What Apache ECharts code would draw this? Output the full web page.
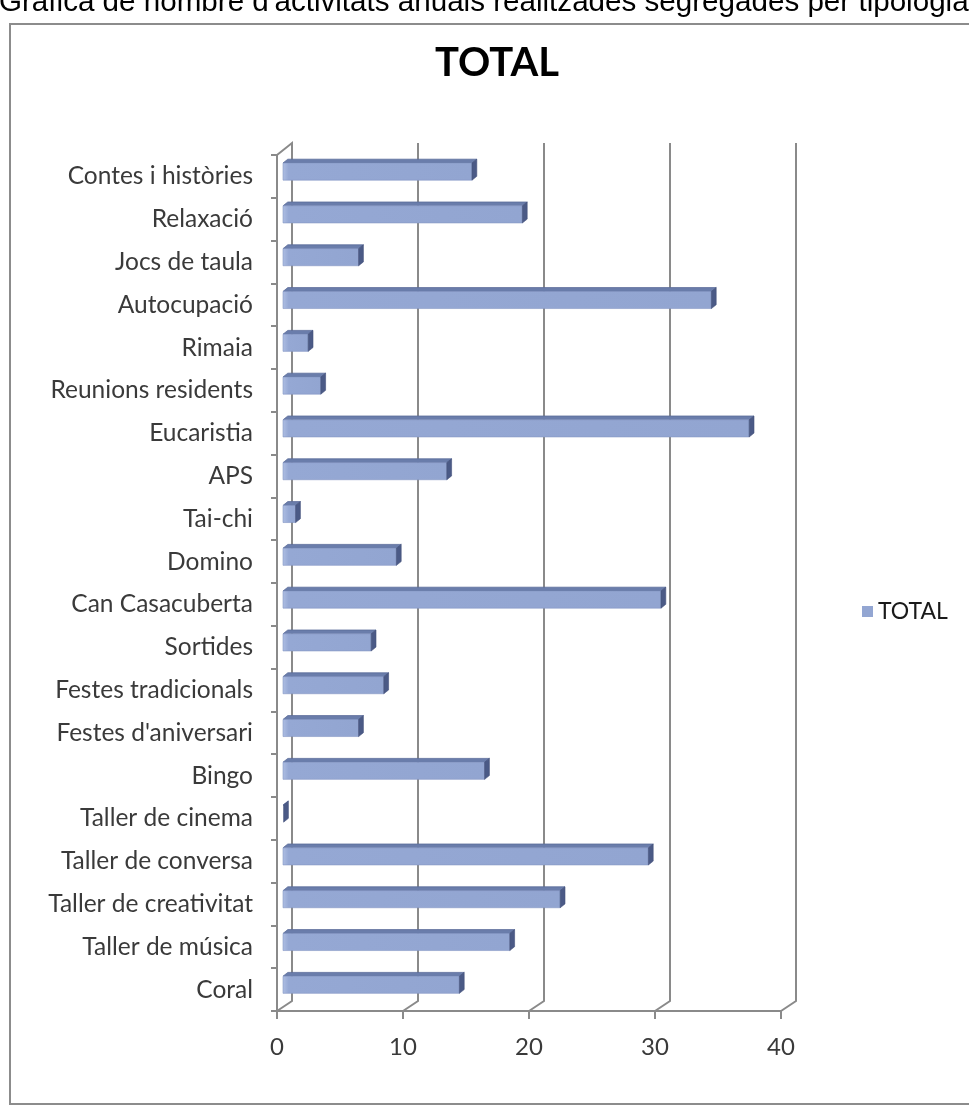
<!DOCTYPE html>
<html>
<head>
<meta charset="utf-8">
<script src="https://cdn.jsdelivr.net/npm/echarts@6/dist/echarts.min.js"></script>
<style>
  html, body { margin: 0; padding: 0; background: #ffffff; overflow: hidden; }
  #chart { width: 969px; height: 1106px; }
</style>
</head>
<body>
<div id="chart"></div>
<script>
// Activity types, top to bottom
const categories = [
  'Contes i històries', 'Relaxació', 'Jocs de taula', 'Autocupació', 'Rimaia',
  'Reunions residents', 'Eucaristia', 'APS', 'Tai-chi', 'Domino',
  'Can Casacuberta', 'Sortides', 'Festes tradicionals', "Festes d'aniversari", 'Bingo',
  'Taller de cinema', 'Taller de conversa', 'Taller de creativitat', 'Taller de música', 'Coral'
];
// Number of activities per year for each type
const totals = [15, 19, 6, 34, 2, 3, 37, 13, 1, 9, 30, 7, 8, 6, 16, 0, 29, 22, 18, 14];
// Value-axis ticks (also used for the back-wall grid lines)
const gridTicks = [0, 10, 20, 30, 40];
const seriesName = 'TOTAL';
const chartTitle = 'TOTAL';
const pageHeading = "Gràfica de nombre d'activitats anuals realitzades segregades per tipologia";

// Depth offset of the 3D box (back wall relative to the front plane), in px
const DEPTH = [15, -12];
const BAR_FRONT = 0.4;   // fraction of depth where the bar's front face sits
const BAR_BACK = 0.72;   // fraction of depth where the bar's back face sits
const LABEL_FONT = 'Lato, "Open Sans", sans-serif';
const LINE_GREY = '#8a8a8a';

const chart = echarts.init(document.getElementById('chart'), null, { renderer: 'canvas' });

function renderWall(params, api) {
  const cs = params.coordSys;
  const v = api.value(0);
  const x = api.coord([v, 0])[0];
  const top = cs.y, bottom = cs.y + cs.height;
  const pts = [];
  if (v === gridTicks[0]) pts.push([x, top]);
  pts.push([x + DEPTH[0], top + DEPTH[1]]);
  pts.push([x + DEPTH[0], bottom + DEPTH[1] + 2]);
  pts.push([x, bottom]);
  return {
    type: 'polyline',
    shape: { points: pts },
    style: { stroke: LINE_GREY, lineWidth: 2, fill: null }
  };
}

function renderBar(params, api) {
  const v = api.value(0);
  const idx = api.value(1);
  const start = api.coord([0, idx]);
  const end = api.coord([v, idx]);
  const band = api.size([0, 1])[1];
  const h = band * 0.4;
  const fx = BAR_FRONT * DEPTH[0], fy = BAR_FRONT * DEPTH[1];
  const ddx = (BAR_BACK - BAR_FRONT) * DEPTH[0], ddy = (BAR_BACK - BAR_FRONT) * DEPTH[1];
  const x0 = start[0] + fx, x1 = Math.max(end[0] + fx, x0 + 0.6);
  const yc = start[1] + fy;
  const yt = yc - h / 2, yb = yc + h / 2;
  const children = [];
  // top face
  children.push({
    type: 'polygon',
    shape: { points: [[x0, yt], [x1, yt], [x1 + ddx, yt + ddy], [x0 + ddx, yt + ddy]] },
    style: { fill: '#6a7dab', stroke: '#5a6c99', lineWidth: 0.8 }
  });
  // front face
  if (x1 - x0 > 1) {
    children.push({
      type: 'rect',
      shape: { x: x0, y: yt, width: x1 - x0, height: h },
      style: {
        fill: new echarts.graphic.LinearGradient(0, 0, 1, 0, [
          { offset: 0, color: '#aebee3' },
          { offset: Math.min(0.5, 6 / (x1 - x0)), color: '#95a8d4' },
          { offset: 1, color: '#92a5d1' }
        ]),
        stroke: '#8597c4', lineWidth: 0.6
      }
    });
  }
  // right end face
  children.push({
    type: 'polygon',
    shape: { points: [[x1, yt], [x1 + ddx, yt + ddy], [x1 + ddx, yb + ddy], [x1, yb]] },
    style: { fill: '#4b5a86', stroke: '#43517a', lineWidth: 0.6 }
  });
  return { type: 'group', children };
}

const option = {
  animation: false,
  backgroundColor: '#ffffff',
  title: {
    text: chartTitle,
    left: 492,
    top: 38,
    textAlign: 'center',
    textStyle: { fontFamily: LABEL_FONT, fontSize: 40, fontWeight: 'bold', color: '#000000' }
  },
  legend: {
    data: [seriesName],
    left: 857,
    top: 595,
    icon: 'rect',
    itemWidth: 11,
    itemHeight: 11,
    itemGap: 4,
    textStyle: { fontFamily: LABEL_FONT, fontSize: 23, color: '#1a1a1a' }
  },
  grid: { left: 277, top: 155, width: 504, height: 856, containLabel: false },
  xAxis: {
    type: 'value',
    min: 0, max: 40, interval: 10,
    axisLine: { show: true, lineStyle: { color: LINE_GREY, width: 2 } },
    axisTick: { show: true, length: 8, lineStyle: { color: LINE_GREY, width: 2 } },
    axisLabel: { fontFamily: LABEL_FONT, fontSize: 24, color: '#3a3a3a', margin: 24 },
    splitLine: { show: false }
  },
  yAxis: {
    type: 'category',
    data: categories,
    inverse: true,
    axisLine: { show: true, lineStyle: { color: LINE_GREY, width: 2 } },
    axisTick: { show: true, length: 6, lineStyle: { color: LINE_GREY, width: 2 } },
    axisLabel: { fontFamily: LABEL_FONT, fontSize: 24.5, color: '#3a3a3a', margin: 24 }
  },
  series: [
    {
      type: 'custom',
      name: 'wall',
      silent: true,
      z: 1,
      data: gridTicks.map(v => [v, 0]),
      renderItem: renderWall
    },
    {
      type: 'custom',
      name: seriesName,
      z: 3,
      itemStyle: { color: '#93a6d2' },
      data: totals.map((v, i) => [v, i]),
      encode: { x: 0, y: 1 },
      renderItem: renderBar
    }
  ],
  graphic: [
    {
      type: 'rect',
      z: -1,
      shape: { x: 10, y: 24, width: 1000, height: 1080 },
      style: { fill: '#ffffff', stroke: '#8c8c8c', lineWidth: 2 }
    },
    {
      type: 'text',
      left: -1,
      top: -12,
      style: {
        text: pageHeading,
        fontFamily: '"Liberation Sans", Arial, sans-serif',
        fontSize: 29.6,
        fill: '#000000'
      }
    }
  ]
};

chart.setOption(option);
</script>
</body>
</html>
